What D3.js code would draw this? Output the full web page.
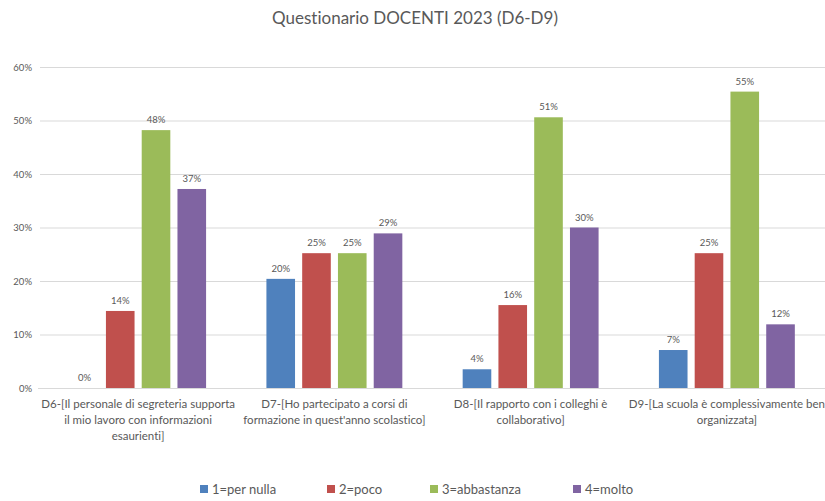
<!DOCTYPE html>
<html>
<head>
<meta charset="utf-8">
<script src="https://cdn.jsdelivr.net/npm/d3@7"></script>
<style>
  html, body { margin: 0; padding: 0; background: #fff; }
  svg { display: block; font-family: Lato, "Open Sans", sans-serif; font-variant-ligatures: none; }
</style>
</head>
<body>
<svg id="chart" width="825" height="501"></svg>
<script>
const title = "Questionario DOCENTI 2023 (D6-D9)";
const categories = ["D6", "D7", "D8", "D9"];
const categoryLabels = [
  ["D6-[Il personale di segreteria supporta", "il mio lavoro con informazioni", "esaurienti]"],
  ["D7-[Ho partecipato a corsi di", "formazione in quest'anno scolastico]"],
  ["D8-[Il rapporto con i colleghi è", "collaborativo]"],
  ["D9-[La scuola è complessivamente ben", "organizzata]"]
];
const seriesNames = ["1=per nulla", "2=poco", "3=abbastanza", "4=molto"];
const seriesColors = ["#4F81BD", "#C0504D", "#9BBB59", "#8064A2"];
const perNulla   = [0.0, 20.4, 3.5, 7.1];
const poco       = [14.4, 25.2, 15.5, 25.2];
const abbastanza = [48.2, 25.2, 50.6, 55.4];
const molto      = [37.2, 28.9, 30.0, 11.9];
const valueLabels = [
  ["0%", "20%", "4%", "7%"],
  ["14%", "25%", "16%", "25%"],
  ["48%", "25%", "51%", "55%"],
  ["37%", "29%", "30%", "12%"]
];
const yTicks = [0, 10, 20, 30, 40, 50, 60];
const seriesValues = [perNulla, poco, abbastanza, molto];

const svg = d3.select("#chart");
const margin = { left: 40, right: 825, top: 67, bottom: 388 };

const x = d3.scaleBand().domain(categories).range([margin.left, margin.right])
  .paddingInner(0.271).paddingOuter(0.1355);
const xi = d3.scaleBand().domain(seriesNames).range([0, x.bandwidth()])
  .paddingInner(0.2).paddingOuter(0.1);
const y = d3.scaleLinear().domain([0, 60]).range([margin.bottom, margin.top]);

const textColor = "#595959";

// title
svg.append("text").attr("x", 415).attr("y", 24).attr("text-anchor", "middle")
  .attr("font-size", 17).attr("fill", textColor).text(title);

// gridlines
svg.append("g").selectAll("line").data(yTicks.slice(1)).join("line")
  .attr("x1", margin.left).attr("x2", margin.right)
  .attr("y1", d => y(d) + 0.5).attr("y2", d => y(d) + 0.5)
  .attr("stroke", "#D9D9D9").attr("stroke-width", 1);

// y axis labels
const yAxis = d3.axisLeft(y).tickValues(yTicks).tickFormat(d => d + "%").tickSize(0).tickPadding(8);
const gy = svg.append("g").attr("transform", `translate(${margin.left},0)`).call(yAxis);
gy.select(".domain").remove();
gy.selectAll("text").attr("font-size", 9.5).attr("fill", textColor).attr("font-family", "Lato, sans-serif");

// bars
const groups = svg.append("g").selectAll("g").data(seriesNames).join("g")
  .attr("fill", (d, i) => seriesColors[i]);
groups.each(function(s, si) {
  d3.select(this).selectAll("rect").data(categories).join("rect")
    .attr("x", c => x(c) + xi(s))
    .attr("width", xi.bandwidth())
    .attr("y", (c, ci) => y(seriesValues[si][ci]))
    .attr("height", (c, ci) => y(0) - y(seriesValues[si][ci]));
  d3.select(this.parentNode).append("g").selectAll("text").data(categories).join("text")
    .attr("x", c => x(c) + xi(s) + xi.bandwidth() / 2)
    .attr("y", (c, ci) => y(seriesValues[si][ci]) - 7)
    .attr("text-anchor", "middle").attr("font-size", 9.5).attr("fill", textColor)
    .text((c, ci) => valueLabels[si][ci]);
});

// baseline axis
svg.append("line").attr("x1", margin.left - 2).attr("x2", margin.right)
  .attr("y1", y(0) + 0.5).attr("y2", y(0) + 0.5).attr("stroke", "#D9D9D9");

// category labels
const cl = svg.append("g").selectAll("text").data(categories).join("text")
  .attr("text-anchor", "middle").attr("font-size", 11.5).attr("fill", textColor)
  .attr("transform", c => `translate(${x(c) + x.bandwidth() / 2},408)`);
cl.each(function(c, ci) {
  d3.select(this).selectAll("tspan").data(categoryLabels[ci]).join("tspan")
    .attr("x", 0).attr("dy", (d, i) => i === 0 ? 0 : 16).text(d => d);
});

// legend
const legendX = [200, 327, 430, 573];
const lg = svg.append("g").selectAll("g").data(seriesNames).join("g")
  .attr("transform", (d, i) => `translate(${legendX[i]},490)`);
lg.append("rect").attr("x", 0).attr("y", -5).attr("width", 8).attr("height", 8)
  .attr("fill", (d, i) => seriesColors[i]);
lg.append("text").attr("x", 12).attr("y", 4).attr("font-size", 13).attr("fill", textColor).text(d => d);
</script>
</body>
</html>
